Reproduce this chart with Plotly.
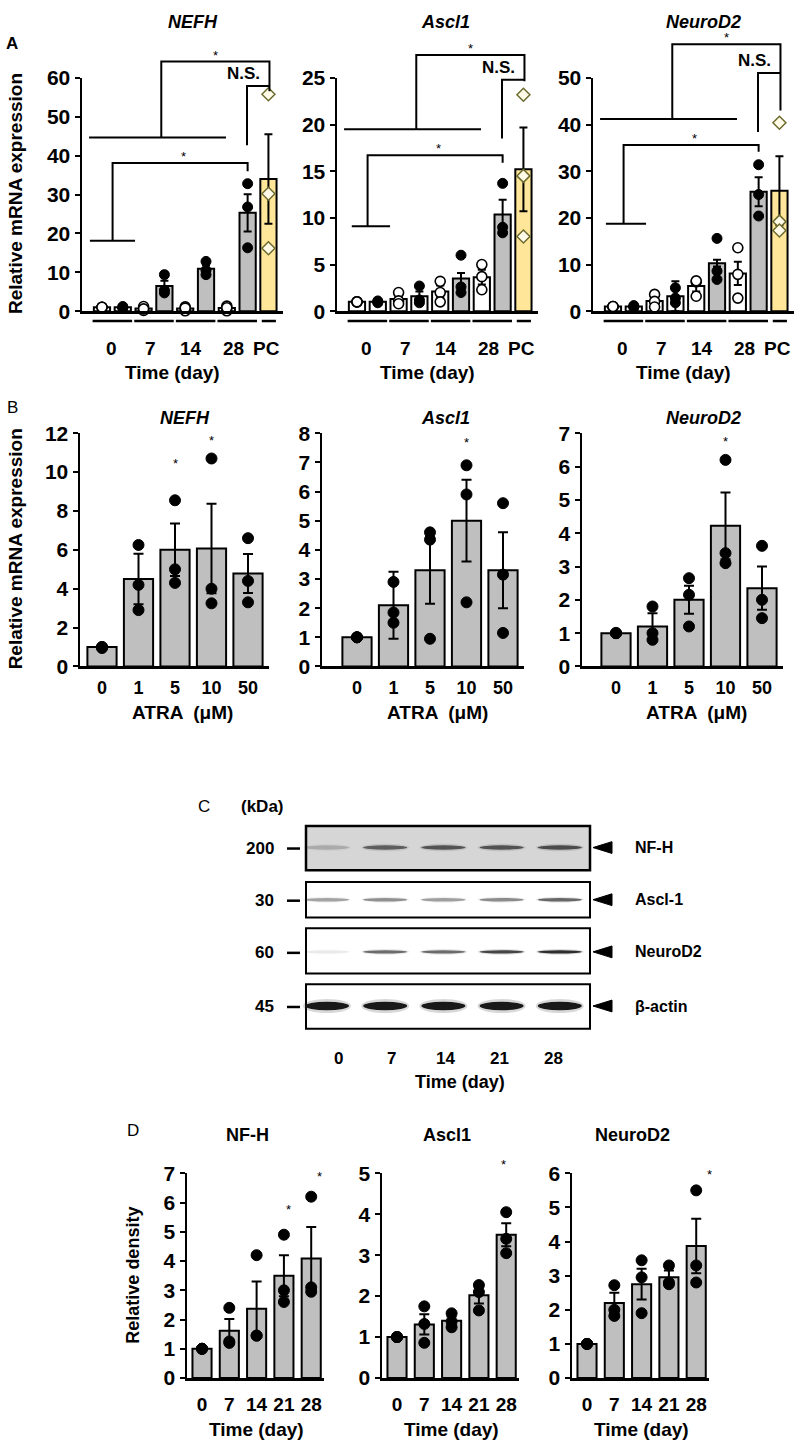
import plotly.graph_objects as go

W, H = 800, 1452
FONT = "Liberation Sans, Arial, Helvetica, sans-serif"

# ------------------------------------------------------------------ data
a_genes = ["NEFH", "Ascl1", "NeuroD2"]
a_tick_text = ["0", "7", "14", "28", "PC"]
a_tick_pos = [0.45, 2.35, 4.3, 6.3, 7.9]

nefh_a_mean = [1.0, 1.0, 0.7, 6.5, 0.7, 10.9, 0.8, 25.3, 34.0]
nefh_a_err = [0.1, 0.1, 0.3, 1.3, 0.3, 0.9, 0.4, 4.8, 11.5]
nefh_a_pts = [[1.0, 1.0, 1.0], [0.8, 1.0, 1.2], [1.2, 0.2, 0.6], [9.4, 5.4, 4.7],
              [1.1, 0.1, 0.8], [12.8, 10.5, 9.4], [1.3, 0.1, 0.9], [32.8, 26.8, 16.3],
              [55.8, 30.2, 16.2]]

ascl_a_mean = [1.0, 1.0, 1.3, 1.6, 2.1, 3.5, 3.65, 10.35, 15.2]
ascl_a_err = [0.05, 0.05, 0.35, 0.5, 0.65, 0.6, 0.8, 1.6, 4.5]
ascl_a_pts = [[1.0, 1.0, 1.0], [0.9, 1.0, 1.1], [2.0, 1.1, 0.8], [2.7, 1.2, 0.9],
              [3.2, 2.0, 1.0], [6.0, 2.6, 2.0], [5.0, 3.7, 2.3], [13.7, 9.0, 8.4],
              [23.2, 14.5, 8.0]]

neurod_a_mean = [1.0, 1.0, 2.2, 3.2, 5.4, 10.3, 8.1, 25.6, 25.8]
neurod_a_err = [0.1, 0.1, 0.9, 3.2, 1.2, 0.7, 2.5, 3.1, 7.4]
neurod_a_pts = [[1.0, 1.0, 1.0], [0.8, 1.0, 1.2], [3.6, 2.1, 0.9], [5.0, 2.8, 1.8],
                [6.3, 6.5, 3.2], [15.6, 8.6, 6.8], [13.6, 7.9, 2.8], [31.4, 25.0, 20.4],
                [40.4, 19.2, 17.3]]

# bracket levels (y values) per gene in panel A
a_base_y = [18.1, 9.1, 18.75]
a_low_y = [38.1, 16.7, 35.6]
a_low_drop = [36.0, 15.9, 34.2]
a_up_y = [44.65, 19.5, 41.2]
a_top_y = [64.2, 27.46, 57.2]
a_top_drop = [56.6, 24.65, 43.0]
a_ns_y = [57.9, 24.8, 51.05]
a_ns_drop = [42.7, 18.5, 38.4]
a_base_x0 = [-0.58, -0.25, -0.34]

b_tick_text = ["0", "1", "5", "10", "50"]
nefh_b_mean = [1.0, 4.5, 6.0, 6.07, 4.78]
nefh_b_err = [0.02, 1.3, 1.35, 2.3, 1.0]
nefh_b_pts = [[0.95, 1.0, 1.0], [6.25, 4.2, 2.9], [8.55, 5.0, 4.3], [10.7, 4.0, 3.25], [6.6, 4.4, 3.3]]
ascl_b_mean = [1.0, 2.1, 3.3, 5.0, 3.3]
ascl_b_err = [0.02, 1.15, 1.15, 1.4, 1.3]
ascl_b_pts = [[1.0, 1.0, 1.0], [2.9, 1.85, 1.5], [4.6, 4.35, 0.95], [6.9, 5.9, 2.2], [5.6, 3.15, 1.15]]
neurod_b_mean = [1.0, 1.2, 2.0, 4.22, 2.35]
neurod_b_err = [0.02, 0.4, 0.42, 1.0, 0.65]
neurod_b_pts = [[1.0, 1.0, 1.0], [1.8, 1.0, 0.8], [2.65, 2.15, 1.2], [6.2, 3.4, 3.1], [3.62, 2.0, 1.45]]
b_star_bar = [[2, 3], [3], [3]]
b_star_y = [[10.6, 11.8], [7.77], [6.85]]

d_genes = ["NF-H", "Ascl1", "NeuroD2"]
d_tick_text = ["0", "7", "14", "21", "28"]
nfh_d_mean = [1.0, 1.62, 2.37, 3.5, 4.09]
nfh_d_err = [0.02, 0.4, 0.93, 0.7, 1.07]
nfh_d_pts = [[1.0, 1.0, 1.0], [2.4, 1.25, 1.2], [4.2, 1.45, 1.45], [4.9, 3.0, 2.6], [6.2, 3.1, 2.95]]
ascl_d_mean = [1.0, 1.31, 1.4, 2.02, 3.5]
ascl_d_err = [0.02, 0.25, 0.1, 0.2, 0.28]
ascl_d_pts = [[1.0, 1.0, 1.0], [1.75, 1.32, 0.86], [1.58, 1.38, 1.24], [2.27, 2.1, 1.65], [4.05, 3.4, 3.05]]
neurod_d_mean = [1.0, 2.2, 2.75, 2.95, 3.87]
neurod_d_err = [0.02, 0.3, 0.45, 0.2, 0.8]
neurod_d_pts = [[1.0, 1.0, 1.0], [2.72, 2.0, 1.82], [3.45, 2.95, 1.9], [3.3, 2.8, 2.75], [5.5, 3.3, 2.8]]
d_star_x = [[3.15, 4.3], [3.9], [4.5]]
d_star_y = [[5.88, 7.0], [5.28], [6.05]]

blot_proteins = ["NF-H", "Ascl-1", "NeuroD2", "β-actin"]
blot_kda = ["200", "30", "60", "45"]
blot_lanes = ["0", "7", "14", "21", "28"]
nfh_band = [0.2, 0.6, 0.66, 0.66, 0.7]
ascl_band = [0.36, 0.44, 0.38, 0.46, 0.62]
neurod_band = [0.08, 0.6, 0.6, 0.78, 0.9]
actin_band = [1.0, 1.0, 1.0, 1.0, 1.0]

# ------------------------------------------------------------------ styles
WHITE, GRAY, YELLOW = "#ffffff", "#bfbfbf", "#ffe699"
a_fill = [
    [WHITE, WHITE, WHITE, GRAY, WHITE, GRAY, WHITE, GRAY, YELLOW],
    [WHITE, WHITE, WHITE, WHITE, WHITE, GRAY, WHITE, GRAY, YELLOW],
    [WHITE, WHITE, WHITE, WHITE, WHITE, GRAY, WHITE, GRAY, YELLOW],
]


def px(x):
    return x / W


def py(y):
    return 1 - y / H


fig = go.Figure()
shapes = []
anns = []

SUB = {}


def setup(n, x0, x1, yt, yb, xr, yr, dtick, tickvals=None, ticktext=None, standoff=8, xfont=19):
    SUB[n] = dict(x0=x0, x1=x1, yt=yt, yb=yb, xr=xr, yr=yr)
    sx = "" if n == 1 else str(n)
    xa = dict(domain=[px(x0), px(x1)], range=xr, anchor="y" + sx, showline=True, linecolor="black",
              linewidth=2.5, showgrid=False, zeroline=False, ticks="", fixedrange=True)
    if tickvals is not None:
        xa.update(tickmode="array", tickvals=tickvals, ticktext=ticktext, ticklabelstandoff=standoff,
                  tickfont=dict(family=FONT, size=xfont, color="black", weight="bold"))
    else:
        xa.update(showticklabels=False)
    ya = dict(domain=[py(yb), py(yt)], range=yr, anchor="x" + sx, showline=True, linecolor="black",
              linewidth=2.5, showgrid=False, zeroline=False, ticks="outside", ticklen=5, tickwidth=2,
              tickcolor="black", dtick=dtick, tick0=0,
              tickfont=dict(family=FONT, size=21, color="black", weight="bold"), fixedrange=True)
    fig.layout["xaxis" + sx] = xa
    fig.layout["yaxis" + sx] = ya


def P(n, xv, yv):
    s = SUB[n]
    fx = (xv - s["xr"][0]) / (s["xr"][1] - s["xr"][0])
    fy = (yv - s["yr"][0]) / (s["yr"][1] - s["yr"][0])
    return s["x0"] + fx * (s["x1"] - s["x0"]), s["yb"] - fy * (s["yb"] - s["yt"])


def poly(pts, width=2.0):
    path = "M " + " L ".join(f"{px(x):.5f},{py(y):.5f}" for x, y in pts)
    shapes.append(dict(type="path", xref="paper", yref="paper", path=path,
                       line=dict(color="black", width=width)))


def dpoly(n, pts, width=2.0):
    poly([P(n, x, y) for x, y in pts], width)


def text(xp, yp, t, size=18, bold=True, italic=False, xanchor="center", yanchor="middle",
         angle=0, yshift=0):
    anns.append(dict(x=px(xp), y=py(yp), xref="paper", yref="paper", text=t, showarrow=False,
                     xanchor=xanchor, yanchor=yanchor, textangle=angle, yshift=yshift,
                     font=dict(family=FONT, size=size, color="black",
                               weight="bold" if bold else "normal",
                               style="italic" if italic else "normal")))


def add_data(n, means, errs, pts, colors, width, msize, cap, styles):
    sx = "" if n == 1 else str(n)
    xs = list(range(len(means)))
    fig.add_trace(go.Bar(x=xs, y=means, width=width, xaxis="x" + sx, yaxis="y" + sx,
                         marker=dict(color=colors, line=dict(color="black", width=2)),
                         error_y=dict(type="data", array=errs, visible=True, color="black",
                                      thickness=2, width=cap),
                         showlegend=False, hoverinfo="skip"))
    groups = {}
    for i, p in enumerate(pts):
        groups.setdefault(styles[i], ([], []))
        for v in p:
            groups[styles[i]][0].append(i)
            groups[styles[i]][1].append(v)
    for st, (gx, gy) in groups.items():
        if st == "dot":
            mk = dict(symbol="circle", size=msize, color="black", line=dict(color="black", width=1))
        elif st == "open":
            mk = dict(symbol="circle", size=msize, color="white", line=dict(color="black", width=1.6))
        else:
            mk = dict(symbol="diamond", size=msize, color="#fffbe8", line=dict(color="#6b6b2e", width=1.5))
        fig.add_trace(go.Scatter(x=gx, y=gy, mode="markers", marker=mk, xaxis="x" + sx, yaxis="y" + sx,
                                 cliponaxis=False, showlegend=False, hoverinfo="skip"))


# ------------------------------------------------------------------ panel A
A_X0 = [82, 337, 593]
A_YT, A_YB = 67, 304
A_XR = [-0.96, 8.7]
A_YR = [[0, 60], [0, 25], [0, 50]]
A_DT = [10, 5, 10]
a_means = [nefh_a_mean, ascl_a_mean, neurod_a_mean]
a_errs = [nefh_a_err, ascl_a_err, neurod_a_err]
a_pts = [nefh_a_pts, ascl_a_pts, neurod_a_pts]
a_styles = ["open", "dot"] * 4 + ["diamond"]
a_title_x = [193, 445, 703]

for k in range(3):
    n = k + 1
    setup(n, A_X0[k], A_X0[k] + 201, A_YT, A_YB, A_XR, A_YR[k], A_DT[k])
    add_data(n, a_means[k], a_errs[k], a_pts[k], a_fill[k], 0.78, 10, 4, a_styles)
    # brackets
    dpoly(n, [(a_base_x0[k], a_base_y[k]), (1.59, a_base_y[k])])
    dpoly(n, [(0.51, a_base_y[k]), (0.51, a_low_y[k]), (7.0, a_low_y[k]), (7.0, a_low_drop[k])])
    dpoly(n, [(-0.62, a_up_y[k]), (5.96, a_up_y[k])])
    dpoly(n, [(2.85, a_up_y[k]), (2.85, a_top_y[k]), (8.05, a_top_y[k]), (8.05, a_top_drop[k])])
    dpoly(n, [(8.05, a_ns_y[k]), (6.97, a_ns_y[k]), (6.97, a_ns_drop[k])])
    sx_, sy_ = P(n, 5.45, a_top_y[k])
    text(sx_, sy_, "*", size=13, bold=False, yanchor="bottom", yshift=-3)
    sx_, sy_ = P(n, 3.9, a_low_y[k])
    text(sx_, sy_, "*", size=13, bold=False, yanchor="bottom", yshift=-3)
    nx_, ny_ = P(n, 6.8, a_ns_y[k])
    text(nx_, ny_, "N.S.", size=17, yanchor="bottom", yshift=1)
    # group underlines
    for g in range(4):
        xa_, _ = P(n, 2 * g - 0.45, 0)
        xb_, _ = P(n, 2 * g + 1.45, 0)
        poly([(xa_, 314), (xb_, 314)], 2.5)
    xa_, _ = P(n, 7.68, 0)
    xb_, _ = P(n, 8.36, 0)
    poly([(xa_, 314), (xb_, 314)], 2.5)
    # group labels
    for tp, tt in zip(a_tick_pos, a_tick_text):
        lx_, _ = P(n, tp, 0)
        text(lx_, 342, tt, size=19)
    tx_, _ = P(n, 3.4, 0)
    text(tx_, 366, "Time (day)", size=19)
    text(a_title_x[k], 10, a_genes[k], size=18, italic=True)

text(12, 32, "A", size=17)
text(15, 185, "Relative mRNA expression", size=19, angle=-90)

# ------------------------------------------------------------------ panel B
B_X0 = [80, 322, 582]
B_OFF = [22, 35, 34]
B_SP = 36.5
B_YT, B_YB = 428, 665
B_YR = [[0, 12], [0, 8], [0, 7]]
B_DT = [2, 1, 1]
b_means = [nefh_b_mean, ascl_b_mean, neurod_b_mean]
b_errs = [nefh_b_err, ascl_b_err, neurod_b_err]
b_pts = [nefh_b_pts, ascl_b_pts, neurod_b_pts]
b_title_x = [185, 445, 703]
for k in range(3):
    n = k + 4
    xr = [-B_OFF[k] / B_SP, 4 + 21 / B_SP]
    x1 = B_X0[k] + (xr[1] - xr[0]) * B_SP
    setup(n, B_X0[k], x1, B_YT, B_YB, xr, B_YR[k], B_DT[k],
          tickvals=list(range(5)), ticktext=b_tick_text, standoff=3, xfont=18)
    add_data(n, b_means[k], b_errs[k], b_pts[k], [GRAY] * 5, 0.8, 11, 5, ["dot"] * 5)
    for bi, yv in zip(b_star_bar[k], b_star_y[k]):
        sx_, sy_ = P(n, bi, yv)
        text(sx_, sy_, "*", size=13, bold=False, yshift=-3)
    cx_, _ = P(n, 2.2, 0)
    text(cx_, 712, "ATRA  (μM)", size=19)
    text(b_title_x[k], 413, a_genes[k], size=18, italic=True)

text(12, 402, "B", size=17, bold=False)
text(15, 546, "Relative mRNA expression", size=19, angle=-90)

# ------------------------------------------------------------------ panel C (western blot)
BOX_X0, BOX_X1 = 306, 590
box_top = [827, 884, 931, 988]
box_bot = [872, 920, 977, 1033]
band_y = [849, 902, 955, 1010]
band_h = [4.5, 3.5, 3.5, 8.5]
bands = [nfh_band, ascl_band, neurod_band, actin_band]
box_fill = ["#d6d6d6", "#ffffff", "#ffffff", "#ffffff"]
LANE0, LANE_DX, BAND_W = 327, 58.2, 44

for r in range(4):
    shapes.append(dict(type="rect", xref="paper", yref="paper", x0=px(BOX_X0), x1=px(BOX_X1),
                       y0=py(box_bot[r]), y1=py(box_top[r]), fillcolor=box_fill[r],
                       line=dict(color="black", width=2.5 if r == 0 else 2)))
    for li, inten in enumerate(bands[r]):
        cx = LANE0 + LANE_DX * li
        h = band_h[r]
        shapes.append(dict(type="circle", xref="paper", yref="paper",
                           x0=px(cx - BAND_W / 2 - 2), x1=px(cx + BAND_W / 2 + 2),
                           y0=py(band_y[r] + h * 0.85), y1=py(band_y[r] - h * 0.85),
                           fillcolor=f"rgba(60,60,60,{inten * 0.2:.3f})", line=dict(width=0)))
        shapes.append(dict(type="circle", xref="paper", yref="paper",
                           x0=px(cx - BAND_W / 2), x1=px(cx + BAND_W / 2),
                           y0=py(band_y[r] + h / 2), y1=py(band_y[r] - h / 2),
                           fillcolor=f"rgba(25,25,25,{inten:.3f})", line=dict(width=0)))
    # marker dash and label
    poly([(287, band_y[r] + 1), (300, band_y[r] + 1)], 2.5)
    text(276, band_y[r] + 1, blot_kda[r], size=17, xanchor="right")
    # arrowhead
    yy = band_y[r]
    shapes.append(dict(type="path", xref="paper", yref="paper",
                       path=f"M {px(612):.5f},{py(yy - 6):.5f} L {px(593):.5f},{py(yy):.5f} "
                            f"L {px(612):.5f},{py(yy + 6):.5f} Z",
                       fillcolor="black", line=dict(color="black", width=1)))
    text(633, yy, blot_proteins[r], size=16, xanchor="left")

for li, lab in enumerate(blot_lanes):
    text(338 + 53.75 * li, 1063, lab, size=17)
text(460, 1087, "Time (day)", size=18)
text(204, 807, "C", size=17, bold=False)
text(262, 807, "(kDa)", size=17)

# ------------------------------------------------------------------ panel D
D_X0 = [187, 382, 572]
D_YT, D_YB = 1180, 1388
D_XR = [-0.55, 4.45]
D_YR = [[0, 7], [0, 5], [0, 6]]
d_means = [nfh_d_mean, ascl_d_mean, neurod_d_mean]
d_errs = [nfh_d_err, ascl_d_err, neurod_d_err]
d_pts = [nfh_d_pts, ascl_d_pts, neurod_d_pts]
d_title_x = [247, 447, 632]
for k in range(3):
    n = k + 7
    setup(n, D_X0[k], D_X0[k] + 136.5, D_YT, D_YB, D_XR, D_YR[k], 1,
          tickvals=list(range(5)), ticktext=d_tick_text, standoff=8, xfont=19)
    add_data(n, d_means[k], d_errs[k], d_pts[k], [GRAY] * 5, 0.7, 11, 5, ["dot"] * 5)
    for sxv, syv in zip(d_star_x[k], d_star_y[k]):
        sx_, sy_ = P(n, sxv, syv)
        text(sx_, sy_, "*", size=13, bold=False, yshift=-3)
    cx_, _ = P(n, 2.0, 0)
    text(cx_, 1440, "Time (day)", size=19)
    text(d_title_x[k], 1141, d_genes[k], size=18)

text(133, 1137, "D", size=17, bold=False)
text(133, 1284, "Relative density", size=18, angle=-90)

fig.update_layout(width=W, height=H, margin=dict(l=0, r=0, t=0, b=0),
                  paper_bgcolor="white", plot_bgcolor="rgba(0,0,0,0)",
                  shapes=shapes, annotations=anns, showlegend=False, barmode="overlay")
fig.write_html("out.html", config={"displayModeBar": False, "staticPlot": True},
               post_script="document.body.style.margin='0px';")
